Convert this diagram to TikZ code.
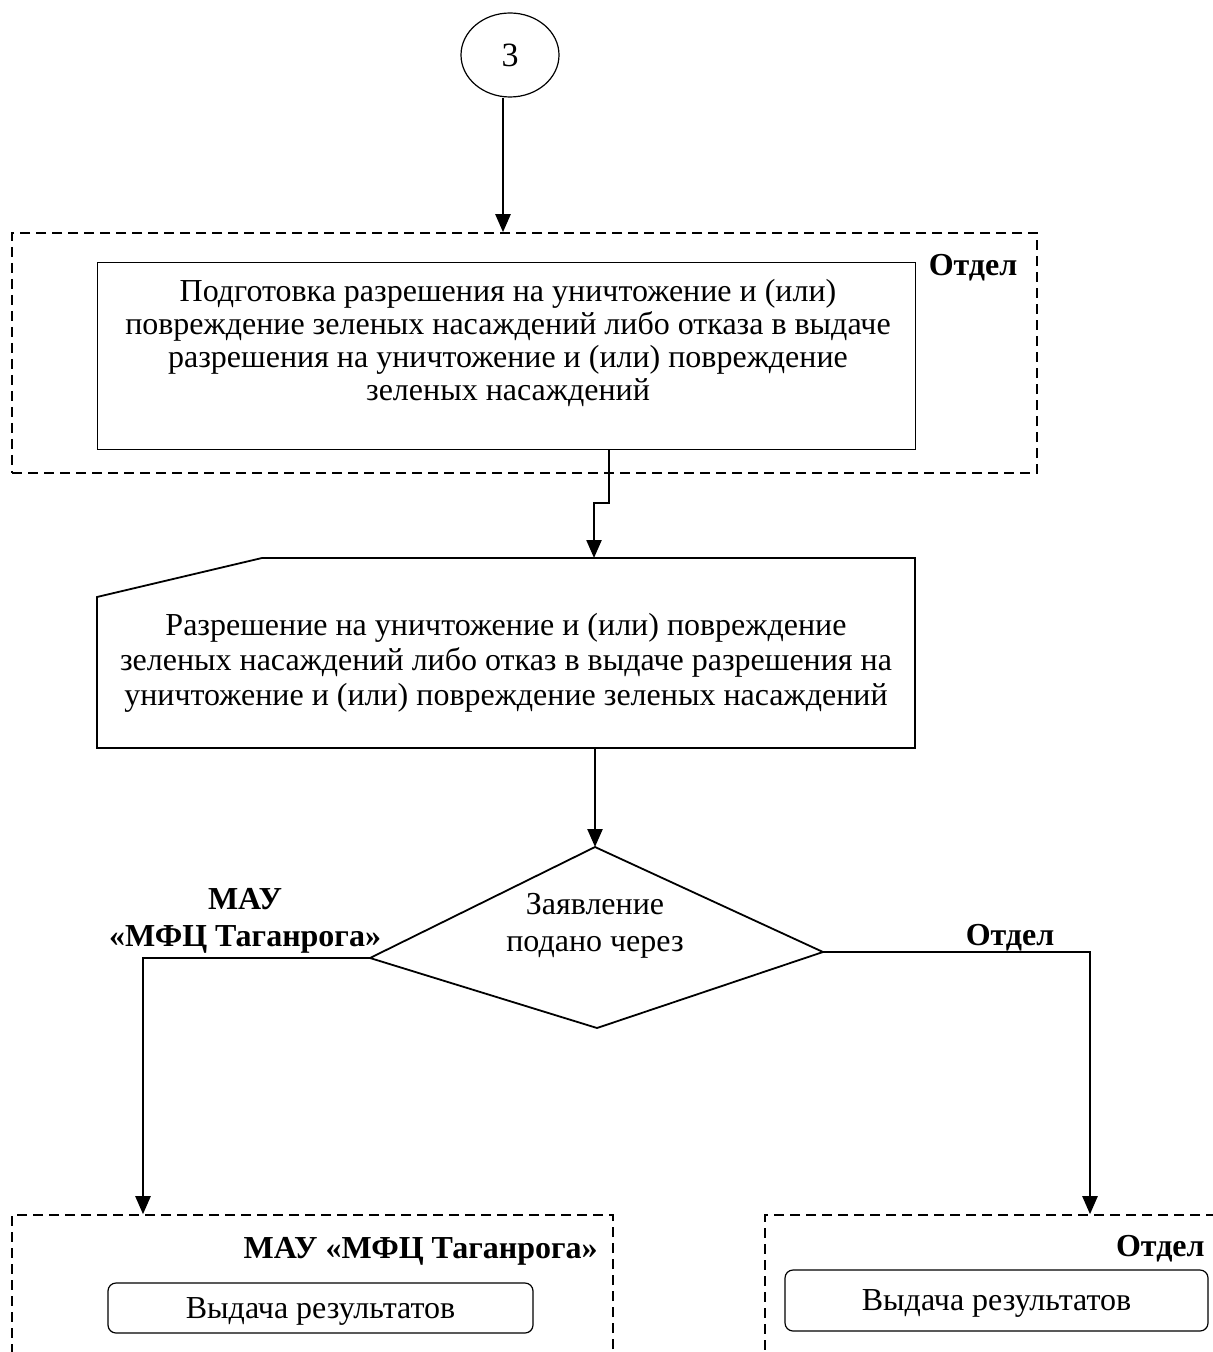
\documentclass[tikz,border=0pt]{standalone}
\usepackage{fontspec}
\setmainfont{Liberation Serif}
\usetikzlibrary{arrows.meta,shapes.geometric}
\begin{document}
\begin{tikzpicture}[x=0.5pt,y=-0.5pt,
  arr/.style={line width=1.2pt,-{Triangle[length=9pt,width=7.5pt]}},
  grp/.style={draw,dash pattern=on 5pt off 3pt,line width=0.8pt,inner sep=0pt},
  txt/.style={font=\fontsize{16}{16.5}\selectfont,align=center,inner sep=0pt},
  lbl/.style={font=\fontsize{16}{18.5}\selectfont\bfseries,align=center,inner sep=0pt},
  rbox/.style={draw,rounded corners=4pt,line width=0.6pt,inner sep=0pt},
  rtxt/.style={font=\fontsize{16}{18}\selectfont,inner sep=0pt},
  pbox/.style={draw,line width=0.5pt,inner sep=0pt}
]
\useasboundingbox (0,0) rectangle (1213,1352);
\clip (0,0) rectangle (1213,1352);

% connector node "3"
\node[draw,ellipse,line width=0.6pt,minimum width=49pt,minimum height=42pt,inner sep=0pt,font=\fontsize{17}{18}\selectfont] (ell) at (510,55) {3};

% group 1
\node[grp,minimum width=512.5pt,minimum height=120pt] (g1) at (524.5,353) {};
\node[lbl] (l1) at (973,268) {Отдел};
\node[pbox,minimum width=409pt,minimum height=93pt] (b1) at (506,356) {};
\node[txt] (t1) at (508,343) {Подготовка разрешения на уничтожение и (или)\\повреждение зеленых насаждений либо отказа в выдаче\\разрешения на уничтожение и (или) повреждение\\зеленых насаждений};

\coordinate (c1) at (503,0);
\draw[arr] (ell.south -| c1) -- (g1.north -| c1);

% document shape
\coordinate (d1) at (97,597);
\coordinate (d2) at (262,558);
\coordinate (d3) at (915,558);
\coordinate (d4) at (915,748);
\coordinate (d5) at (97,748);
\coordinate (dtop) at (594,558);
\draw[line width=0.9pt] (d1) -- (d2) -- (d3) -- (d4) -- (d5) -- cycle;
\node[txt,font=\fontsize{16}{17.5}\selectfont] (t2) at (506,663) {Разрешение на уничтожение и (или) повреждение\\зеленых насаждений либо отказ в выдаче разрешения на\\уничтожение и (или) повреждение зеленых насаждений};

\coordinate (j1) at (609,503);
\draw[arr] (b1.south -| j1) -- (j1) -| (dtop);

% decision
\coordinate (qt) at (595,847);
\coordinate (qr) at (823,952);
\coordinate (qb) at (597,1028);
\coordinate (ql) at (370,958);
\draw[line width=0.9pt] (qt) -- (qr) -- (qb) -- (ql) -- cycle;
\node[txt,font=\fontsize{16}{18.5}\selectfont] (t3) at (595,926) {Заявление\\подано через};

\coordinate (dbot) at (595,748);
\draw[arr] (dbot) -- (qt);

% bottom groups
\node[grp,minimum width=300.5pt,minimum height=102.5pt] (g2) at (312.5,1317.5) {};
\node[grp,minimum width=257.5pt,minimum height=102.5pt] (g3) at (1022.5,1317.5) {};

\coordinate (lc) at (143,958);
\coordinate (rc) at (1090,952);
\draw[arr] (ql) -- (lc) -- (g2.north -| lc);
\draw[arr] (qr) -- (rc) -- (g3.north -| rc);

\node[lbl] (l2) at (245,921) {МАУ\\«МФЦ Таганрога»};
\node[lbl] (l3) at (1010,938) {Отдел};

\node[lbl,anchor=east] (l4) at (598,1251) {МАУ «МФЦ Таганрога»};
\node[lbl,anchor=east] (l5) at (1205,1249) {Отдел};

\node[rbox,minimum width=212.5pt,minimum height=25pt] (r1) at (320.5,1308) {};
\node[rtxt] (r1t) at (320.5,1311) {Выдача результатов};
\node[rbox,minimum width=211.5pt,minimum height=30.5pt] (r2) at (996.5,1300.5) {};
\node[rtxt] (r2t) at (996.5,1303) {Выдача результатов};
\end{tikzpicture}
\end{document}
